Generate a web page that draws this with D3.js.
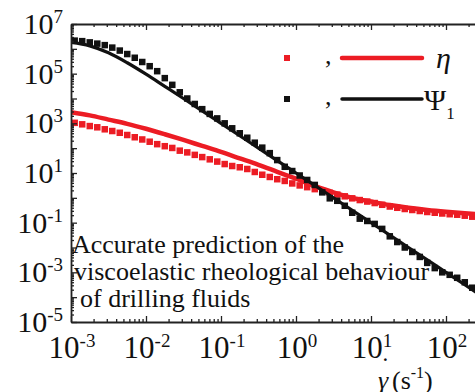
<!DOCTYPE html>
<html>
<head>
<meta charset="utf-8">
<script src="https://cdn.jsdelivr.net/npm/d3@7"></script>
<style>
  body { margin: 0; background: #fff; }
  svg { display: block; }
  text { font-family: "Liberation Serif", "Times New Roman", serif; fill: #111; }
</style>
</head>
<body>
<div id="chart"></div>
<script>
// measured points (squares), shear rate in 1/s
const shearRate = [
  1.12e-3, 1.41e-3, 1.78e-3, 2.24e-3, 2.82e-3, 3.55e-3, 4.47e-3, 5.62e-3, 7.08e-3, 8.91e-3,
  1.12e-2, 1.41e-2, 1.78e-2, 2.24e-2, 2.82e-2, 3.55e-2, 4.47e-2, 5.62e-2, 7.08e-2, 8.91e-2,
  0.112, 0.141, 0.178, 0.224, 0.282, 0.355, 0.447, 0.562, 0.708, 0.891,
  1.12, 1.41, 1.78, 2.24, 2.82, 3.55, 4.47, 5.62, 7.08, 8.91,
  11.2, 14.1, 17.8, 22.4, 28.2, 35.5, 44.7, 56.2, 70.8, 89.1,
  112, 141, 178, 224, 282
];
const etaData = [
  1047, 912, 776, 692, 575, 490, 417, 339, 275, 224,
  182, 145, 120, 102, 79.4, 67.6, 53.7, 43.7, 35.5, 28.8,
  22.9, 19.1, 17.0, 14.5, 11.0, 8.51, 6.92, 5.62, 4.79, 3.80,
  3.16, 2.69, 2.24, 1.86, 1.58, 1.35, 1.15, 0.955, 0.813, 0.708,
  0.617, 0.525, 0.447, 0.398, 0.355, 0.324, 0.295, 0.269, 0.251, 0.234,
  0.219, 0.209, 0.191, 0.174, 0.162
];
const psiData = [
  2.14e6, 2.04e6, 1.82e6, 1.62e6, 1.41e6, 1.12e6, 8.51e5, 6.17e5, 4.37e5, 2.95e5,
  2.0e5, 1.26e5, 6.61e4, 3.55e4, 1.78e4, 1.0e4, 6.03e3, 3.72e3, 2.40e3, 1.58e3,
  1.0e3, 631, 398, 263, 166, 105, 63.1, 33.1, 17.8, 12.0,
  7.94, 5.25, 3.31, 1.66, 0.955, 0.759, 0.479, 0.251, 0.145, 0.117,
  0.0891, 0.0562, 0.0282, 0.0166, 0.01, 6.61e-3, 4.17e-3, 2.40e-3, 1.48e-3, 1.0e-3,
  7.94e-4, 6.03e-4, 3.98e-4, 2.40e-4, 1.41e-4
];

// model curves
const modelRate = [
  1e-3, 1.78e-3, 3.16e-3, 5.62e-3, 1e-2, 1.78e-2, 3.16e-2, 5.62e-2, 0.1, 0.178, 0.316, 0.562,
  1, 1.78, 3.16, 5.62, 10, 17.8, 31.6, 56.2, 100, 178, 316
];
const etaModel = [
  2818, 2089, 1413, 955, 603, 363, 214, 123, 70.8, 38.9, 21.4, 11.2,
  5.89, 3.02, 1.66, 1.0, 0.708, 0.513, 0.398, 0.324, 0.275, 0.240, 0.214
];
const psiModel = [
  1.82e6, 1.32e6, 6.92e5, 2.75e5, 9.55e4, 3.09e4, 1.0e4, 3.16e3, 1.0e3, 316, 100, 31.6,
  10, 3.16, 1, 0.316, 0.1, 0.0316, 0.01, 3.16e-3, 1e-3, 3.16e-4, 1e-4
];

const xTickExp = [-3, -2, -1, 0, 1, 2];
const yTickExp = [7, 5, 3, 1, -1, -3, -5];
const noteLines = ['Accurate prediction of the', 'viscoelastic rheological behaviour', 'of drilling fluids'];

const width = 475, height = 392;
const plotLeft = 71, plotTop = 24, plotBottom = 322;
const red = '#ec1c24', black = '#111';

const x = d3.scaleLog().domain([1e-3, 1e3]).range([plotLeft, 521]);
const y = d3.scaleLog().domain([1e-5, 1e7]).range([plotBottom, plotTop]);

const svg = d3.select('#chart').append('svg')
  .attr('width', width)
  .attr('height', height);

svg.append('clipPath').attr('id', 'clip')
  .append('rect')
  .attr('x', plotLeft).attr('y', plotTop)
  .attr('width', width - plotLeft).attr('height', plotBottom - plotTop);

const plot = svg.append('g').attr('clip-path', 'url(#clip)');

const sq = 6.5;
const line = d3.line()
  .x(d => x(d[0]))
  .y(d => y(d[1]))
  .curve(d3.curveMonotoneX);

plot.append('g').selectAll('rect')
  .data(d3.zip(shearRate, etaData))
  .join('rect')
  .attr('x', d => x(d[0]) - sq / 2)
  .attr('y', d => y(d[1]) - sq / 2)
  .attr('width', sq).attr('height', sq)
  .attr('fill', red);

plot.append('path')
  .datum(d3.zip(modelRate, etaModel))
  .attr('d', line)
  .attr('fill', 'none')
  .attr('stroke', red)
  .attr('stroke-width', 4.5);

plot.append('g').selectAll('rect')
  .data(d3.zip(shearRate, psiData))
  .join('rect')
  .attr('x', d => x(d[0]) - sq / 2)
  .attr('y', d => y(d[1]) - sq / 2)
  .attr('width', sq).attr('height', sq)
  .attr('fill', black);

plot.append('path')
  .datum(d3.zip(modelRate, psiModel))
  .attr('d', line)
  .attr('fill', 'none')
  .attr('stroke', black)
  .attr('stroke-width', 3.2);

// ticks: every 1..9 per decade, majors longer
const logTicks = (lo, hi) => {
  const out = [];
  for (let e = lo; e < hi; e++)
    for (let m = 1; m < 10; m++) out.push(m * Math.pow(10, e));
  out.push(Math.pow(10, hi));
  return out;
};
const isMajor = v => Math.abs(Math.log10(v) - Math.round(Math.log10(v))) < 1e-6;

function styleAxis(g, horizontal) {
  g.select('.domain').attr('stroke', '#222').attr('stroke-width', 1.8);
  g.selectAll('.tick line')
    .attr('stroke', '#222')
    .attr('stroke-width', 1.3)
    .attr(horizontal ? 'y2' : 'x2', function (d) {
      const v = +d3.select(this).attr(horizontal ? 'y2' : 'x2');
      return isMajor(d) ? v * 2 : v;
    });
}

svg.append('g')
  .attr('transform', `translate(0,${plotBottom})`)
  .call(d3.axisBottom(x).tickValues(logTicks(-3, 3)).tickSizeInner(-3).tickSizeOuter(0).tickFormat(''))
  .call(g => styleAxis(g, true));

svg.append('g')
  .attr('transform', `translate(0,${plotTop})`)
  .call(d3.axisTop(x).tickValues(logTicks(-3, 3)).tickSizeInner(-3).tickSizeOuter(0).tickFormat(''))
  .call(g => styleAxis(g, true));

svg.append('g')
  .attr('transform', `translate(${plotLeft},0)`)
  .call(d3.axisLeft(y).tickValues(logTicks(-5, 7)).tickSizeInner(-3).tickSizeOuter(0).tickFormat(''))
  .call(g => styleAxis(g, false));

// tick labels with superscripts
const yLab = svg.append('g').selectAll('text')
  .data(yTickExp)
  .join('text')
  .attr('x', 63)
  .attr('y', d => y(Math.pow(10, d)) + 10)
  .attr('text-anchor', 'end')
  .attr('font-size', 30);
yLab.append('tspan').text('10');
yLab.append('tspan').attr('font-size', 19).attr('dy', -11).text(d => d);

const xLab = svg.append('g').selectAll('text')
  .data(xTickExp)
  .join('text')
  .attr('x', d => x(Math.pow(10, d)) + 1)
  .attr('y', 358)
  .attr('text-anchor', 'middle')
  .attr('font-size', 31);
xLab.append('tspan').text('10');
xLab.append('tspan').attr('font-size', 19).attr('dy', -11).text(d => d);

// axis title (dot drawn as its own glyph above the gamma)
svg.append('text')
  .attr('x', 378).attr('y', 389)
  .attr('font-size', 26).attr('font-style', 'italic')
  .text('\u03B3');
svg.append('text')
  .attr('x', 381).attr('y', 375)
  .attr('font-size', 26)
  .text('\u02D9');
const title = svg.append('text')
  .attr('x', 392)
  .attr('y', 389)
  .attr('font-size', 26);
title.append('tspan').text('(s');
title.append('tspan').attr('font-size', 16).attr('dy', -11).text('-1');
title.append('tspan').attr('dy', 11).text(')');

// legend
const legend = svg.append('g');
[[red, 58, 4.5], [black, 99, 3.5]].forEach(([c, ly, w]) => {
  legend.append('rect').attr('x', 284).attr('y', ly - 3).attr('width', 6).attr('height', 6).attr('fill', c);
  legend.append('text').attr('x', 325).attr('y', ly + 6).attr('font-size', 26).text(',');
  legend.append('line')
    .attr('x1', 342).attr('x2', 422).attr('y1', ly).attr('y2', ly)
    .attr('stroke', c).attr('stroke-width', w).attr('stroke-linecap', 'round');
});
legend.append('text').attr('x', 436).attr('y', 68).attr('font-size', 30)
  .attr('font-style', 'italic').text('\u03B7');
const psiLab = legend.append('text').attr('x', 424).attr('y', 110).attr('font-size', 30);
psiLab.append('tspan').text('\u03A8');
psiLab.append('tspan').attr('font-size', 17).attr('dy', 9).text('1');

// annotation
svg.append('g').selectAll('text')
  .data(noteLines)
  .join('text')
  .attr('x', (d, i) => [72, 74, 80][i])
  .attr('y', (d, i) => 253 + i * 27)
  .attr('font-size', 26)
  .text(d => d);
</script>
</body>
</html>
